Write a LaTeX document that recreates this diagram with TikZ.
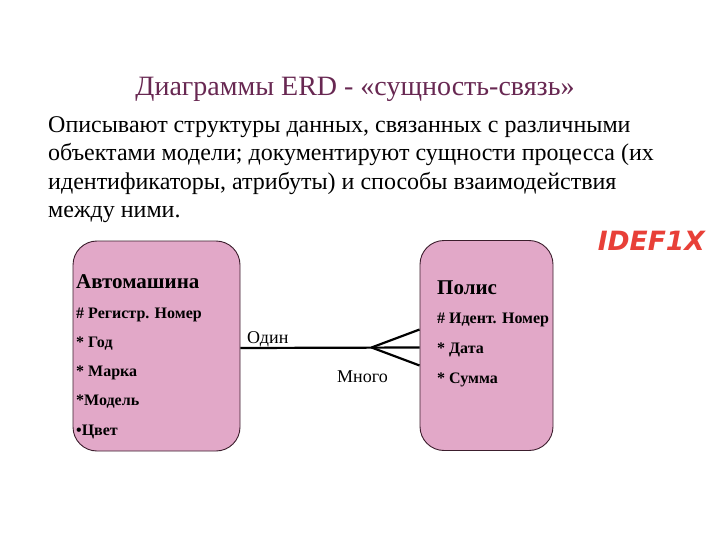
\documentclass[tikz,border=0pt]{standalone}
\usepackage{fontspec}
\setmainfont{Liberation Serif}
\newfontfamily\idefont{DejaVu Sans}
\usepackage{tikz}
\usetikzlibrary{calc}
\definecolor{titreC}{RGB}{104,40,82}
\definecolor{roseC}{RGB}{226,168,200}
\definecolor{bordC}{RGB}{60,30,45}
\definecolor{rougeC}{RGB}{232,64,56}
\tikzset{
  entite/.style={rectangle, rounded corners=24pt, draw=bordC, line width=0.9pt, fill=roseC,
                 minimum width=#1, minimum height=210pt},
  attr/.style={anchor=base west, inner sep=0pt, font=\fontsize{16}{18}\selectfont\bfseries},
  nomE/.style={anchor=base west, inner sep=0pt, font=\fontsize{21}{24}\selectfont\bfseries},
  lien/.style={line width=2.2pt, draw=black},
  role/.style={anchor=base west, inner sep=0pt, font=\fontsize{18}{20}\selectfont},
}

\begin{document}
\begin{tikzpicture}[x=1pt, y=-1pt]
  \useasboundingbox (0,0) rectangle (720,540);
  \fill[white] (0,0) rectangle (720,540);
  % titre et texte
  \node[anchor=base, text=titreC, font=\fontsize{28}{32}\selectfont] (titre) at (355,96)
    {Диаграммы ERD - «сущность-связь»};
  \node[anchor=base west, inner sep=0pt, align=left, font=\fontsize{24}{28.5}\selectfont] (texte) at (48,218)
    {Описывают структуры данных, связанных с различными\\
     объектами модели; документируют сущности процесса (их\\
     идентификаторы, атрибуты) и способы взаимодействия\\
     между ними.};
  \node[anchor=base east, inner sep=0pt, text=rougeC, font=\idefont\fontsize{26.5}{30}\selectfont\bfseries\itshape] (idef) at (705,250) {IDEF1X};
  % entites
  \node[entite=167pt] (auto) at (156.5,346) {};
  \node[entite=133pt] (polis) at (486.5,345.5) {};
  \node[nomE] (autoN) at (76,288) {Автомашина};
  \node[attr] (a1) at (76,318) {\# Регистр. Номер};
  \node[attr] (a2) at (76,347) {* Год};
  \node[attr] (a3) at (76,376) {* Марка};
  \node[attr] (a4) at (76,405) {*Модель};
  \node[attr] (a5) at (76,435) {•Цвет};
  \node[nomE] (polisN) at (437,294) {Полис};
  \node[attr] (p1) at (437,323) {\# Идент. Номер};
  \node[attr] (p2) at (437,353) {* Дата};
  \node[attr] (p3) at (437,383) {* Сумма};
  % lien
  \coordinate (fourche) at ($(polis.west)+(-48,2)$);
  \draw[lien] ($(auto.east)+(0,2)$) -- ($(polis.west)+(0,2)$);
  \draw[lien] (fourche) -- ($(polis.west)+(0,-16)$);
  \draw[lien] (fourche) -- ($(polis.west)+(0,20)$);
  \node[role] (un) at (247,343) {Один};
  \node[role] (plusieurs) at (337,382) {Много};
\end{tikzpicture}
\end{document}
